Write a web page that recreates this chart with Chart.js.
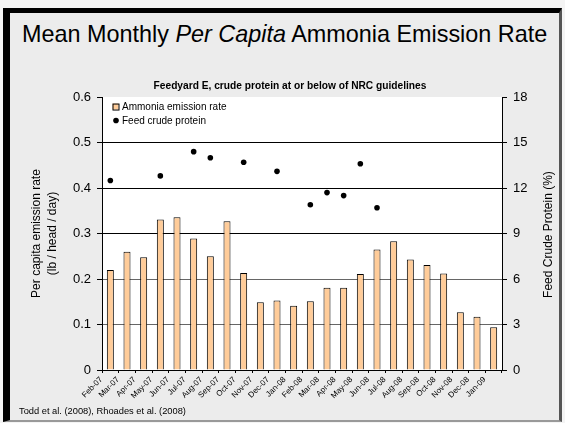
<!DOCTYPE html>
<html>
<head>
<meta charset="utf-8">
<script src="https://cdn.jsdelivr.net/npm/chart.js@4.4.0/dist/chart.umd.min.js"></script>
<style>
  html, body { margin: 0; padding: 0; background: #f4f4f4; }
  #frame { position: relative; width: 565px; height: 423px; overflow: hidden; font-family: Arial, "Liberation Sans", sans-serif; }
  #panel { position: absolute; left: 3px; top: 8px; width: 559px; height: 414px; box-sizing: border-box;
           background: #ececec; border-top: 5px solid #000; border-left: 7px solid #000;
           border-right: 3px solid #555; border-bottom: 2px solid #999; }
  #mainTitle { position: absolute; left: 22px; top: 23px; font-size: 23.4px; line-height: 1; white-space: nowrap; color: #000; }
  #source { position: absolute; left: 19px; top: 406.5px; font-size: 9.3px; line-height: 1; white-space: nowrap; color: #000; }
  #chart { position: absolute; left: 0; top: 0; }
</style>
</head>
<body>
<div id="frame">
  <div id="panel"></div>
  <div id="mainTitle">Mean Monthly <i>Per Capita</i> Ammonia Emission Rate</div>
  <canvas id="chart" width="565" height="423"></canvas>
  <div id="source">Todd et al. (2008), Rhoades et al. (2008)</div>
</div>
<script>
// ===== data =====
const months = ['Feb-07', 'Mar-07', 'Apr-07', 'May-07', 'Jun-07', 'Jul-07', 'Aug-07', 'Sep-07',
  'Oct-07', 'Nov-07', 'Dec-07', 'Jan-08', 'Feb-08', 'Mar-08', 'Apr-08', 'May-08',
  'Jun-08', 'Jul-08', 'Aug-08', 'Sep-08', 'Oct-08', 'Nov-08', 'Dec-08', 'Jan-09'];

// lb / head / day
const emissionRate = [0.220, 0.260, 0.248, 0.331, 0.336, 0.289, 0.250, 0.327,
  0.213, 0.149, 0.153, 0.141, 0.151, 0.181, 0.181, 0.211,
  0.265, 0.283, 0.243, 0.231, 0.212, 0.127, 0.117, 0.094];

// feed crude protein, % (only sampled months)
const crudeProtein = [12.5, null, null, 12.8, null, 14.4, 14.0, null,
  13.7, null, 13.1, null, 10.9, 11.7, 11.5, 13.6,
  10.7, null, null, null, null, null, null, null];

const leftAxis = { min: 0, max: 0.6, step: 0.1 };
const rightAxis = { min: 0, max: 18, step: 3 };

const subTitle = 'Feedyard E, crude protein at or below of NRC guidelines';
const leftTitle = ['Per capita emission rate', '(lb / head / day)'];
const rightTitle = 'Feed Crude Protein (%)';

Chart.defaults.font.family = 'Arial, "Liberation Sans", sans-serif';
Chart.defaults.color = '#000';

// white plot area
const plotBackground = {
  id: 'plotBackground',
  beforeDraw(chart) {
    const { ctx, chartArea } = chart;
    ctx.save();
    ctx.fillStyle = '#fff';
    ctx.fillRect(chartArea.left, chartArea.top, chartArea.right - chartArea.left, chartArea.bottom - chartArea.top);
    ctx.restore();
  }
};

// legend drawn inside the plot, top left
const insideLegend = {
  id: 'insideLegend',
  afterDatasetsDraw(chart) {
    const { ctx, chartArea } = chart;
    const sets = chart.data.datasets;
    const x = chartArea.left + 13.5;
    let y = chartArea.top + 9.5;
    ctx.save();
    ctx.font = '10px Arial, "Liberation Sans", sans-serif';
    ctx.textBaseline = 'middle';
    ctx.textAlign = 'left';

    // bar item
    ctx.fillStyle = sets[0].backgroundColor;
    ctx.fillRect(x - 3, y - 3, 6, 6);
    ctx.strokeStyle = '#000';
    ctx.lineWidth = 1;
    ctx.strokeRect(x - 2.5, y - 2.5, 6, 6);
    ctx.fillStyle = '#000';
    ctx.fillText(sets[0].label, x + 6.5, y + 0.5);

    // point item
    y += 14;
    ctx.beginPath();
    ctx.arc(x + 0.5, y, 2.8, 0, 2 * Math.PI);
    ctx.fill();
    ctx.fillText(sets[1].label, x + 6.5, y + 0.5);
    ctx.restore();
  }
};

// right axis title reads bottom to top, like the left one
const rightAxisTitle = {
  id: 'rightAxisTitle',
  afterDraw(chart) {
    const { ctx, chartArea } = chart;
    ctx.save();
    ctx.translate(549, (chartArea.top + chartArea.bottom) / 2 + 1);
    ctx.rotate(-Math.PI / 2);
    ctx.font = '12px Arial, "Liberation Sans", sans-serif';
    ctx.fillStyle = '#000';
    ctx.textAlign = 'center';
    ctx.textBaseline = 'middle';
    ctx.fillText(rightTitle, 0, 0);
    ctx.restore();
  }
};

const chartElem = document.getElementById('chart');
const chart = new Chart(chartElem.getContext('2d'), {
  data: {
    labels: months,
    datasets: [{
      type: 'bar',
      label: 'Ammonia emission rate',
      data: emissionRate,
      backgroundColor: '#ffcc99',
      borderColor: '#000',
      borderWidth: 1,
      categoryPercentage: 1,
      barPercentage: 0.42,
      yAxisID: 'y',
      order: 2
    }, {
      type: 'line',
      label: 'Feed crude protein',
      data: crudeProtein,
      showLine: false,
      pointRadius: 2.8,
      pointBackgroundColor: '#000',
      pointBorderColor: '#000',
      pointBorderWidth: 0,
      yAxisID: 'y2',
      order: 1
    }]
  },
  options: {
    responsive: false,
    animation: false,
    layout: { padding: { left: 15, right: 0, top: 74, bottom: 0 } },
    plugins: {
      legend: { display: false },
      tooltip: { enabled: false },
      title: {
        display: true,
        text: subTitle,
        color: '#000',
        font: { size: 10.2, weight: 'bold' },
        padding: { top: 6, bottom: 4.8 }
      }
    },
    scales: {
      x: {
        offset: true,
        grid: { drawOnChartArea: false, tickLength: 3, tickColor: '#000', offset: true },
        border: { color: '#000', width: 1 },
        ticks: { font: { size: 8 }, minRotation: 45, maxRotation: 45, autoSkip: false, padding: 2, labelOffset: -9 },
        afterFit(scale) { scale.height = 53; }
      },
      y: {
        position: 'left',
        min: leftAxis.min,
        max: leftAxis.max,
        ticks: { stepSize: leftAxis.step, font: { size: 13 }, padding: 6 },
        grid: {
          color: (c) => c.tick.value >= leftAxis.max - 1e-9 ? 'rgba(0,0,0,0)' : (c.tick.value <= 0.2 ? '#666' : '#000'),
          tickColor: '#000',
          tickLength: 5
        },
        border: { color: '#000', width: 1 },
        title: {
          display: true,
          text: leftTitle,
          font: { size: 12, lineHeight: 1.3333 },
          padding: { top: 14, bottom: 0 }
        },
        afterFit(scale) { scale.width = 87; }
      },
      y2: {
        position: 'right',
        min: rightAxis.min,
        max: rightAxis.max,
        ticks: { stepSize: rightAxis.step, font: { size: 13 }, padding: 6 },
        grid: { drawOnChartArea: false, tickColor: '#000', tickLength: 5 },
        border: { color: '#000', width: 1 },
        afterFit(scale) { scale.width = 63; }
      }
    }
  },
  plugins: [plotBackground, insideLegend, rightAxisTitle]
});
</script>
</body>
</html>
